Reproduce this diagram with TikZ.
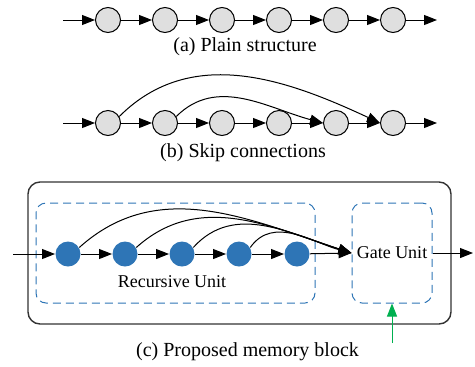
\documentclass[tikz,border=0pt]{standalone}
\usepackage{fontspec}
\setmainfont{Liberation Serif}
\usetikzlibrary{arrows.meta}
\definecolor{memblue}{RGB}{46,117,182}
\definecolor{memgreen}{RGB}{0,176,80}

\begin{document}
\begin{tikzpicture}[x=0.5pt,y=0.5pt,line width=0.5pt,>={Triangle[length=6.5pt,width=5pt]},
    cell/.style={circle,draw,fill=gray!25,minimum size=12.5pt,inner sep=0pt},
    bluecell/.style={circle,fill=memblue,minimum size=12.5pt,inner sep=0pt},
    unitbox/.style={draw=memblue,dash pattern=on 4pt off 2.5pt,rounded corners=5pt,inner sep=0pt,minimum height=50pt},
    caption/.style={font=\fontsize{10}{12}\selectfont},
    label/.style={font=\fontsize{9}{11}\selectfont}]
        \useasboundingbox (0,0) rectangle (475,366);
        % (a) plain
        \coordinate (ain) at (63,346);
        \node[cell] (a1) at (108,346) {};
        \node[cell] (a2) at (165,346) {};
        \node[cell] (a3) at (222,346) {};
        \node[cell] (a4) at (279,346) {};
        \node[cell] (a5) at (336,346) {};
        \node[cell] (a6) at (393,346) {};
        \coordinate (aout) at (437,346);
        \draw[->] (ain)--(a1);
        \draw[->] (a1)--(a2);
        \draw[->] (a2)--(a3);
        \draw[->] (a3)--(a4);
        \draw[->] (a4)--(a5);
        \draw[->] (a5)--(a6);
        \draw[->] (a6)--(aout);
        \node[caption] (capa) at (245,319) {(a) Plain structure};
        % (b) skip
        \coordinate (bin) at (63,243);
        \node[cell] (b1) at (108,243) {};
        \node[cell] (b2) at (165,243) {};
        \node[cell] (b3) at (222,243) {};
        \node[cell] (b4) at (279,243) {};
        \node[cell] (b5) at (336,243) {};
        \node[cell] (b6) at (393,243) {};
        \coordinate (bout) at (437,243);
        \draw[->] (bin)--(b1);
        \draw[->] (b1)--(b2);
        \draw[->] (b2)--(b3);
        \draw[->] (b3)--(b4);
        \draw[->] (b4)--(b5);
        \draw[->] (b5)--(b6);
        \draw[->] (b6)--(bout);
        \draw[->] (b1.30) to[out=45,in=155] (b6.west);
        \draw[->] (b2.30) to[out=45,in=165] (b5.west);
        \node[caption] (capb) at (243,213) {(b) Skip connections};
        % (c) memory block
        \node[draw=black!80,line width=0.7pt,rounded corners=6pt,minimum width=211.5pt,minimum height=71pt] (block) at (239.5,113) {};
        \node[unitbox,minimum width=139.5pt] (rec) at (175.5,113) {};
        \node[unitbox,minimum width=40pt,label] (gate) at (392,113) {Gate Unit};
        \node[label] (reclabel) at (172,84) {Recursive Unit};
        \coordinate (cin) at (13,112);
        \node[bluecell] (c1) at (68,112) {};
        \node[bluecell] (c2) at (125,112) {};
        \node[bluecell] (c3) at (182,112) {};
        \node[bluecell] (c4) at (239,112) {};
        \node[bluecell] (c5) at (297,112) {};
        \coordinate (cout) at (473,113);
        \coordinate (gin) at (392,23);
        \draw[->] (cin)--(c1);
        \draw[->] (c1)--(c2);
        \draw[->] (c2)--(c3);
        \draw[->] (c3)--(c4);
        \draw[->] (c4)--(c5);
        \draw[->] (c5)--(gate.west);
        \draw[->] (c1.30) to[out=42,in=162] (gate.west);
        \draw[->] (c2.30) to[out=42,in=162] (gate.west);
        \draw[->] (c3.30) to[out=48,in=163] (gate.west);
        \draw[->] (c4.30) to[out=55,in=165] (gate.west);
        \draw[->] (gate.east)--(cout);
        \draw[->,memgreen] (gin)--(gate.south);
        \node[caption] (capc) at (247.5,14) {(c) Proposed memory block};
\end{tikzpicture}
\end{document}
